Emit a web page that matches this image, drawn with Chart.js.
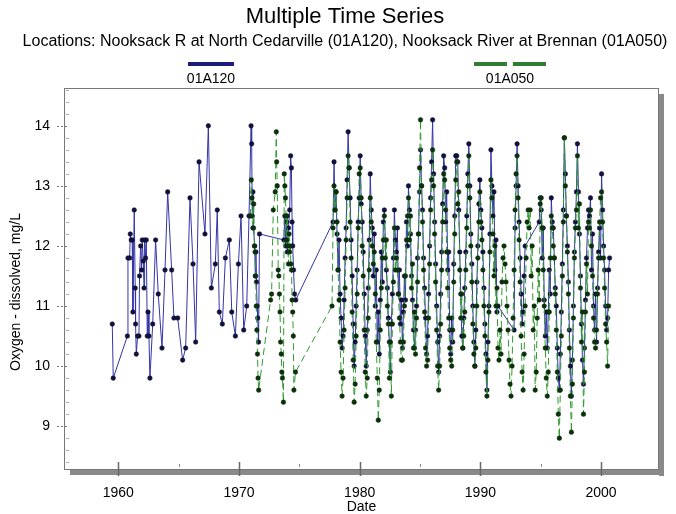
<!DOCTYPE html>
<html>
<head>
<meta charset="utf-8">
<script src="https://cdn.jsdelivr.net/npm/chart.js@4.4.1/dist/chart.umd.min.js"></script>
<style>
  html, body { margin: 0; padding: 0; background: #fff; }
</style>
</head>
<body>
<canvas id="tsChart" width="676" height="514"></canvas>
<script>
// --- data ---
const siteLabels = ['01A120', '01A050'];

// 01A120 irregular samples before the monthly record: [decimal year, mg/L]
const a120Early = [
  [1959.50, 10.7], [1959.58, 9.8], [1960.75, 10.5], [1960.80, 11.8], [1960.94, 11.8], [1960.99, 12.2],
  [1961.07, 12.1], [1961.15, 12.1], [1961.21, 10.9], [1961.32, 12.6], [1961.40, 11.3], [1961.43, 10.7],
  [1961.49, 10.2], [1961.60, 10.5], [1961.71, 10.5], [1961.76, 11.5], [1961.85, 12.0], [1961.93, 11.6],
  [1961.98, 12.1], [1962.07, 11.75], [1962.13, 11.3], [1962.18, 12.1], [1962.26, 11.8], [1962.32, 12.1],
  [1962.40, 10.5], [1962.46, 10.9], [1962.54, 10.5], [1962.62, 9.8], [1962.85, 10.7], [1963.09, 12.1],
  [1963.31, 11.2], [1963.62, 10.3], [1963.87, 11.6], [1964.09, 12.9], [1964.42, 11.6], [1964.61, 10.8],
  [1964.92, 10.8], [1965.33, 10.1], [1965.58, 10.3], [1965.94, 12.8], [1966.19, 11.7], [1966.41, 10.4],
  [1966.69, 13.4], [1967.18, 12.2], [1967.46, 14.0], [1967.71, 11.3], [1968.04, 11.7], [1968.20, 12.6],
  [1968.37, 10.9], [1968.62, 10.7], [1968.87, 11.8], [1969.20, 12.1], [1969.40, 10.9], [1969.70, 10.5],
  [1969.95, 11.7], [1970.17, 12.5], [1970.39, 10.6], [1970.64, 11.0], [1970.83, 12.5],
  [1971.00, 14.0], [1971.05, 13.7], [1971.10, 12.5], [1971.15, 12.9], [1971.20, 12.3], [1971.30, 12.0],
  [1971.35, 11.5], [1971.40, 11.9], [1971.45, 11.4], [1971.50, 11.0], [1971.55, 10.8], [1971.62, 10.4],
  [1971.70, 12.2],
  [1973.72, 12.1], [1973.80, 12.5], [1973.87, 12.0], [1973.95, 12.4], [1974.00, 11.9], [1974.10, 12.3],
  [1974.20, 12.6], [1974.28, 13.5], [1974.34, 13.3], [1974.40, 12.4], [1974.45, 12.0], [1974.52, 11.6],
  [1974.60, 11.2], [1974.70, 11.1]
];

// 01A050 irregular samples 1971-1974
const a050Early = [
  [1970.95, 12.5], [1971.02, 13.1], [1971.08, 12.8], [1971.15, 12.3], [1971.22, 12.7], [1971.28, 12.0],
  [1971.33, 11.9], [1971.38, 11.5], [1971.43, 11.0], [1971.48, 10.6], [1971.53, 10.2], [1971.58, 9.8],
  [1971.63, 9.6],
  [1972.62, 11.1], [1972.70, 11.2], [1972.84, 12.6], [1973.00, 12.9], [1973.09, 13.9], [1973.12, 13.4],
  [1973.17, 13.0], [1973.25, 11.6], [1973.30, 11.5], [1973.35, 11.2], [1973.40, 10.9], [1973.45, 10.4],
  [1973.50, 10.2], [1973.55, 9.9], [1973.60, 9.8], [1973.68, 9.4],
  [1973.75, 13.2], [1973.80, 13.0], [1973.85, 12.8], [1973.90, 12.5], [1973.95, 12.1], [1974.00, 12.5],
  [1974.05, 12.0], [1974.10, 11.7], [1974.15, 12.2], [1974.20, 11.9], [1974.25, 12.0], [1974.30, 11.7],
  [1974.35, 11.6], [1974.40, 11.1], [1974.45, 10.9], [1974.50, 10.5], [1974.55, 9.6], [1974.68, 9.9]
];

// monthly record, Jan..Dec, starting 1977 (null = no sample)
const monthlyStartYear = 1977;
const a120Monthly = [
  null, null, null, null, null, null, null, null, null, 12.4, 13.4, 12.6,   // 1977
  12.9, 12.2, 11.6, 12.1, 11.2, 10.8, 10.3, 10.5, 11.1, 11.8, 12.3, 13.1,   // 1978
  13.9, 13.3, 12.8, 12.1, 11.5, 10.7, 10.0, 10.4, 11.0, 11.6, 12.4, 12.8,   // 1979
  13.5, 12.7, 12.4, 11.9, 11.2, 10.5, 10.0, 10.6, 11.3, 12.1, 13.2, 12.6,   // 1980
  12.3, 11.5, 12.2, 11.0, 11.6, 10.4, 10.9, 10.2, 11.1, 11.9, 11.4, 12.4,   // 1981
  12.6, 12.1, 11.6, 11.3, 10.8, 10.4, 9.9, 10.7, 11.2, 11.8, 12.6, 12.1,    // 1982
  11.9, 12.3, 11.2, 11.6, 10.7, 11.1, 10.3, 10.9, 11.5, 11.1, 12.4, 12.0,   // 1983
  13.0, 12.6, 12.2, 11.5, 11.1, 10.6, 10.3, 10.6, 11.0, 11.8, 12.2, 12.9,   // 1984
  13.6, 13.0, 12.6, 11.8, 11.3, 10.8, 10.2, 10.5, 11.2, 12.0, 12.8, 13.4,   // 1985
  14.1, 13.2, 12.4, 11.7, 11.0, 10.4, 9.9, 10.5, 11.2, 11.9, 12.7, 13.5,    // 1986
  13.3, 12.4, 12.9, 11.6, 11.9, 10.6, 10.2, 10.8, 10.4, 11.7, 12.5, 13.5,   // 1987
  13.5, 13.4, 12.6, 11.9, 11.2, 10.5, 10.3, 10.8, 11.3, 11.9, 12.5, 13.2,   // 1988
  13.7, 13.0, 12.2, 11.7, 11.0, 10.4, 10.0, 10.6, 11.4, 12.0, 12.7, 13.1,   // 1989
  12.6, 12.3, 11.9, 11.3, 10.7, 10.2, 9.6, 10.4, 11.0, 12.2, 13.6, 13.0,    // 1990
  12.5, 12.9, 11.6, 12.1, 10.9, 11.0, null, null, null, null, null, null,   // 1991
  null, null, null, null, null, null, null, null, null, 10.6, 12.3, 13.0,   // 1992
  13.7, 13.0, 12.4, 11.8, 11.2, 10.7, 10.9, 11.5, 12.0, null, null, null,   // 1993
  null, null, null, null, null, null, null, null, null, null, 12.4, 12.8,   // 1994
  12.6, 11.8, 12.3, 11.1, 10.5, 10.9, 10.3, 10.9, 11.6, 11.2, 12.8, 12.4,   // 1995
  12.3, 11.8, 11.3, 11.0, 10.3, 9.8, 9.6, 10.2, 10.9, 11.7, 12.6, 13.8,    // 1996
  13.2, 12.5, 12.0, 11.4, 10.6, 10.0, 9.5, 10.1, 11.0, 11.9, 12.4, 12.9,    // 1997
  13.7, 12.9, 12.2, 11.5, 10.7, 10.1, 9.7, 10.3, 11.1, 11.8, 12.3, 12.6,    // 1998
  12.5, 12.8, 11.6, 12.2, 11.0, 10.6, 11.2, 10.4, 11.3, 11.9, 12.3, 11.8,   // 1999
  13.2, 12.6, 12.0, 11.6, 11.0, 10.6, 10.8, 11.6, 11.8, null, null, null    // 2000
];
const a050Monthly = [
  null, null, null, null, null, null, null, null, 11.0, 12.3, 13.0, 12.6,   // 1977
  12.9, 12.4, 11.6, 11.1, 10.4, 9.9, 9.5, 9.8, 10.6, 11.3, 12.1, 12.8,      // 1978
  13.5, 13.3, 12.4, 11.8, 10.9, 10.1, 9.4, 9.7, 10.5, 11.2, 12.3, 13.2,     // 1979
  13.3, 12.8, 12.0, 11.5, 10.6, 9.9, 9.5, 9.8, 10.8, 11.6, 12.8, 12.4,      // 1980
  12.0, 11.7, 11.9, 11.2, 10.4, 9.8, 9.1, 9.6, 10.6, 11.3, 11.8, 12.1,      // 1981
  12.5, 11.8, 12.1, 11.0, 10.7, 9.8, 10.4, 9.5, 10.7, 11.4, 12.3, 11.6,     // 1982
  11.8, 11.6, 11.2, 10.8, 10.4, 10.1, 10.1, 10.4, 11.0, 11.5, 12.1, 12.5,   // 1983
  12.8, 12.1, 12.5, 11.3, 11.7, 10.3, 10.9, 10.2, 10.8, 11.4, 12.2, 13.3,   // 1984
  14.1, 13.0, 12.4, 11.6, 10.9, 10.3, 10.0, 10.1, 10.8, 11.7, 12.6, 13.1,   // 1985
  13.6, 13.0, 12.2, 11.4, 10.6, 10.0, 9.6, 10.0, 10.7, 11.6, 12.4, 13.2,    // 1986
  13.1, 12.6, 11.9, 11.3, 10.8, 10.3, 10.1, 10.0, 10.6, 11.4, 12.2, 13.1,   // 1987
  13.4, 12.7, 12.9, 11.6, 10.8, 11.2, 10.3, 10.5, 10.9, 11.6, 12.3, 13.0,   // 1988
  13.5, 12.8, 12.0, 11.4, 10.7, 10.2, 10.0, 10.3, 11.0, 11.8, 12.4, 12.9,   // 1989
  12.4, 12.1, 11.6, 11.0, 10.5, 9.9, 9.5, 10.1, 10.9, 11.9, 13.1, 12.8,     // 1990
  12.2, 11.5, 12.0, 11.0, 11.3, 10.3, 10.1, 10.6, 10.2, 11.4, 11.8, 12.0,   // 1991
  11.7, 11.4, 11.0, 10.6, 10.1, 9.7, 9.5, 10.0, 10.8, 11.6, 12.6, 13.2,     // 1992
  13.5, 12.8, 12.1, 11.4, 10.5, 9.9, 9.6, 10.2, 11.0, 11.8, 12.4, 12.6,     // 1993
  12.3, 12.6, 11.5, 12.0, 10.6, 11.0, 9.6, 9.9, 10.8, 11.6, 11.1, 12.7,     // 1994
  12.8, 12.3, 11.6, 11.0, 10.3, 9.8, 9.5, 9.9, 10.9, 11.8, 12.5, 12.3,      // 1995
  12.0, 11.8, 11.2, 10.6, 9.9, 9.2, 8.8, 9.6, 10.5, 11.5, 12.4, 13.8,       // 1996
  13.0, 12.5, 11.9, 11.2, 10.3, 9.5, 8.9, 9.7, 10.8, 11.8, 12.3, 12.6,      // 1997
  13.5, 12.3, 12.7, 11.3, 10.4, 10.9, 9.2, 9.9, 10.9, 11.7, 11.2, 12.4,     // 1998
  12.3, 12.6, 12.0, 11.5, 10.8, 10.4, 10.3, 10.6, 11.2, 11.8, 12.4, 12.8,   // 1999
  12.9, 12.4, 11.8, 11.3, 10.7, 10.4, 10.0, 11.0, null, null, null, null    // 2000
];

const xTickLabels = [1960, 1970, 1980, 1990, 2000];
const yTickLabels = [9, 10, 11, 12, 13, 14];

function toPoints(early, monthly) {
  const pts = early.map(p => ({ x: p[0], y: p[1] }));
  monthly.forEach((v, i) => {
    if (v === null) return;
    pts.push({ x: monthlyStartYear + Math.floor(i / 12) + ((i % 12) + 0.5) / 12, y: v });
  });
  return pts;
}

const FONT = 'Arial, "Liberation Sans", sans-serif';

const decor = {
  id: 'decor',
  beforeDatasetsDraw(chart) {
    const { ctx, chartArea: a } = chart;
    ctx.save();
    ctx.fillStyle = '#8a8a8a';
    ctx.fillRect(a.right, a.top + 6, 5, a.bottom - a.top);
    ctx.fillRect(a.left + 6, a.bottom, a.right - a.left - 1, 5);
    ctx.restore();
  },
  afterDatasetsDraw(chart) {
    const { ctx, chartArea: a, scales } = chart;
    ctx.save();
    ctx.strokeStyle = '#777';
    ctx.lineWidth = 1;
    ctx.strokeRect(a.left + 0.5, a.top + 0.5, a.right - a.left - 1, a.bottom - a.top - 1);

    // x ticks, major every 10 years, minor every 5
    for (let yr = 1955; yr <= 2005; yr += 5) {
      if (yr < scales.x.min || yr > scales.x.max) continue;
      const px = Math.round(scales.x.getPixelForValue(yr)) + 0.5;
      ctx.beginPath();
      if (yr % 10 === 0) {
        ctx.strokeStyle = '#666';
        ctx.lineWidth = 1.5;
        ctx.moveTo(px, a.bottom - 8);
        ctx.lineTo(px, a.bottom + 6);
      } else {
        ctx.strokeStyle = '#888';
        ctx.lineWidth = 1;
        ctx.moveTo(px, a.bottom - 6);
        ctx.lineTo(px, a.bottom - 3);
      }
      ctx.stroke();
    }
    // y ticks every 0.2, the whole numbers crossing the axis
    ctx.lineWidth = 1;
    for (let i = 42; i <= 73; i++) {
      const v = i / 5;
      if (v < scales.y.min || v > scales.y.max) continue;
      const py = Math.round(scales.y.getPixelForValue(v)) + 0.5;
      ctx.beginPath();
      if (i % 5 === 0) {
        ctx.strokeStyle = '#777';
        ctx.setLineDash([2, 2]);
        ctx.moveTo(a.left - 7, py);
        ctx.lineTo(a.left + 4, py);
      } else {
        ctx.strokeStyle = '#aaa';
        ctx.setLineDash([]);
        ctx.moveTo(a.left + 2, py);
        ctx.lineTo(a.left + 5, py);
      }
      ctx.stroke();
    }
    ctx.restore();
  },
  afterDraw(chart) {
    const { ctx } = chart;
    ctx.save();
    ctx.fillStyle = '#000';
    ctx.textAlign = 'center';
    ctx.textBaseline = 'middle';
    ctx.font = '22px ' + FONT;
    ctx.fillText('Multiple Time Series', 345, 17);
    ctx.font = '16px ' + FONT;
    ctx.fillText('Locations: Nooksack R at North Cedarville (01A120), Nooksack River at Brennan (01A050)', 345, 42);

    // y axis title
    ctx.save();
    ctx.translate(16, 292);
    ctx.rotate(-Math.PI / 2);
    ctx.font = '14px ' + FONT;
    ctx.fillText('Oxygen - dissolved, mg/L', 0, 0);
    ctx.restore();

    // legend: line sample above the site label
    ctx.lineWidth = 4;
    ctx.strokeStyle = '#1c1c80';
    ctx.beginPath();
    ctx.moveTo(188, 64); ctx.lineTo(234, 64);
    ctx.stroke();
    ctx.strokeStyle = '#2e7d32';
    ctx.beginPath();
    ctx.moveTo(474, 64); ctx.lineTo(507, 64);
    ctx.moveTo(513, 64); ctx.lineTo(546, 64);
    ctx.stroke();
    ctx.font = '14px ' + FONT;
    ctx.fillText(chart.data.datasets[0].label, 211, 79);
    ctx.fillText(chart.data.datasets[1].label, 510, 79);
    ctx.restore();
  }
};

new Chart(document.getElementById('tsChart'), {
  type: 'line',
  data: {
    datasets: [
      {
        label: siteLabels[0],
        data: toPoints(a120Early, a120Monthly),
        borderColor: '#3434a8',
        borderWidth: 1,
        pointRadius: 2.3,
        pointBackgroundColor: '#10103a',
        pointBorderColor: '#10103a',
        pointBorderWidth: 0.5,
        tension: 0,
        order: 1
      },
      {
        label: siteLabels[1],
        data: toPoints(a050Early, a050Monthly),
        borderColor: '#2f9a2f',
        borderWidth: 1,
        borderDash: [7, 4],
        pointRadius: 2.3,
        pointBackgroundColor: '#0b300b',
        pointBorderColor: '#0b300b',
        pointBorderWidth: 0.5,
        tension: 0,
        order: 0
      }
    ]
  },
  options: {
    responsive: false,
    devicePixelRatio: 1,
    animation: false,
    layout: { padding: { top: 88, right: 17, left: 0, bottom: 0 } },
    plugins: { legend: { display: false }, tooltip: { enabled: false }, title: { display: false } },
    scales: {
      x: {
        type: 'linear',
        min: 1955.5,
        max: 2004.8,
        grid: { display: false, drawTicks: false },
        border: { display: false },
        afterFit(scale) { scale.height = 44; },
        afterBuildTicks(scale) { scale.ticks = xTickLabels.map(v => ({ value: v })); },
        ticks: {
          padding: 15,
          color: '#000',
          font: { family: FONT, size: 14 },
          callback: v => String(v)
        },
        title: { display: true, text: 'Date', color: '#000', font: { family: FONT, size: 14, lineHeight: 1 }, padding: { top: 0, bottom: 0 } }
      },
      y: {
        min: 8.27,
        max: 14.63,
        grid: { display: false, drawTicks: false },
        border: { display: false },
        afterFit(scale) { scale.width = 64; },
        afterBuildTicks(scale) { scale.ticks = yTickLabels.map(v => ({ value: v })); },
        ticks: {
          padding: 14,
          color: '#000',
          font: { family: FONT, size: 14 },
          callback: v => String(v)
        },
        title: { display: false }
      }
    }
  },
  plugins: [decor]
});
</script>
</body>
</html>
